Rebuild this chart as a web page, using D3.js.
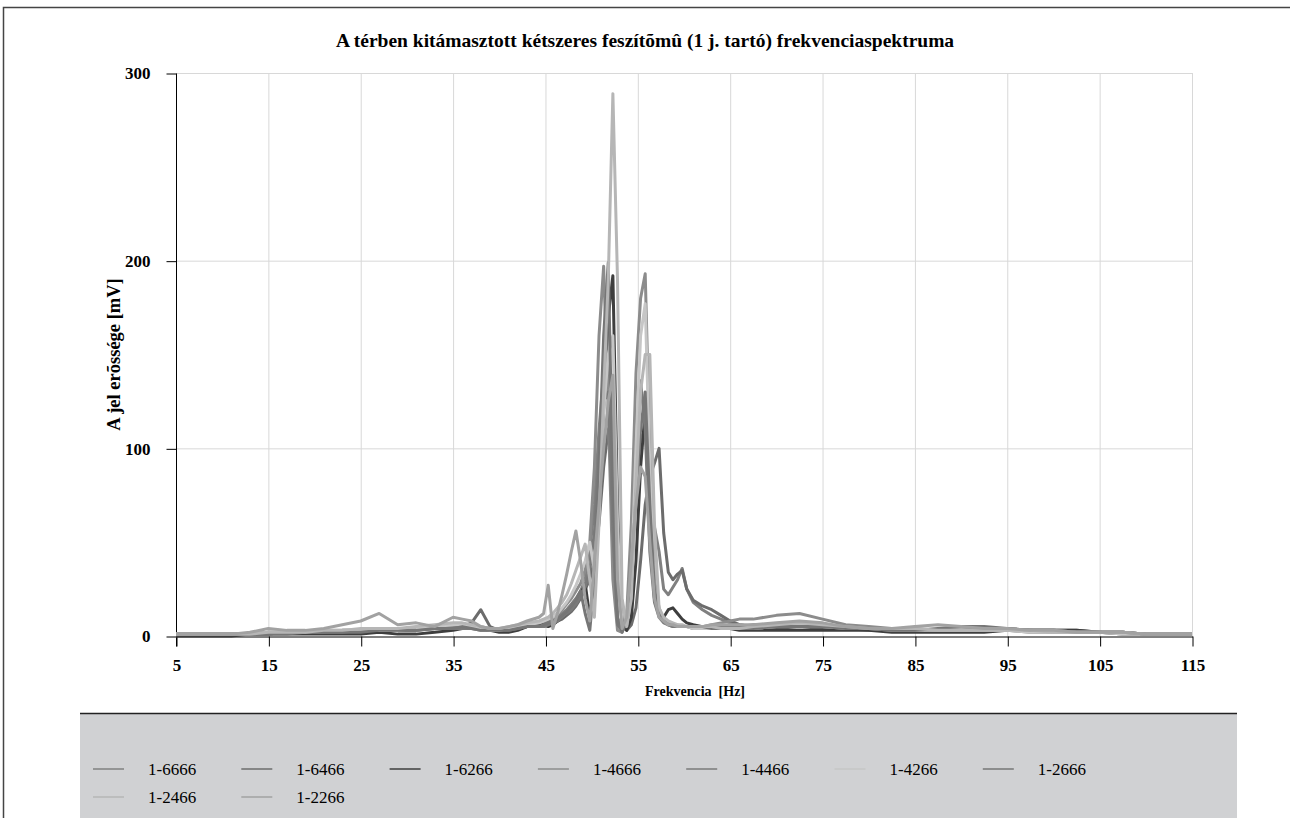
<!DOCTYPE html>
<html>
<head>
<meta charset="utf-8">
<script src="https://cdn.jsdelivr.net/npm/d3@7"></script>
<style>
  body { margin: 0; background: #fff; }
  svg text { font-family: "Liberation Serif", "Times New Roman", serif; }
</style>
</head>
<body>
<div id="chart"></div>
<script>
// Frequency grid [Hz]
const freqs = [
  5, 7, 9, 11, 13, 15, 17, 19, 21, 23, 25, 27, 29, 31, 33, 35,
  36, 37, 38, 39, 40, 41, 42, 43,
  44.3, 44.8, 45.3, 45.8, 46.3, 46.8, 47.3, 47.8, 48.3, 48.8, 49.3, 49.8, 50.3, 50.8, 51.3, 51.8,
  52.3, 52.8, 53.3, 53.8, 54.3, 54.8, 55.3, 55.8, 56.3, 56.8, 57.3, 57.8, 58.3, 58.8, 59.3, 59.8, 60.3,
  61, 62, 63, 64, 65, 66,
  67.5, 70, 72.5, 75, 77.5, 80, 82.5, 85, 87.5, 90, 92.5, 95, 97.5, 100, 102.5, 105, 107.5, 110, 112.5, 115
];

const seriesNames = ["1-6666", "1-6466", "1-6266", "1-4666", "1-4466", "1-4266", "1-2666", "1-2466", "1-2266"];
const seriesColors = ["#808080", "#6c6c6c", "#3e3e3e", "#8c8c8c", "#7a7a7a", "#c6c6c6", "#767676", "#b6b6b6", "#a2a2a2"];

// signal strength [mV] for each series, same order as freqs
const s6666 = [1,1,1,1,1,2,2,2,2,3,3,3,3,4,4,5,
  5,4,3,3,3,4,5,5,
  6,7,8,9,10,12,14,17,20,24,30,45,70,110,140,150,60,10,4,10,35,80,105,110,75,58,45,25,22,26,30,36,25,
  18,14,11,9,7,6,
  5,5,6,5,4,4,3,3,3,3,3,3,3,2,2,2,1,1,1,1];
const s6466 = [1,1,1,1,1,1,2,2,2,2,2,3,3,3,4,4,
  5,7,14,5,3,3,4,5,
  5,5,6,7,8,9,11,13,16,20,25,30,40,60,90,110,115,50,8,3,6,15,40,70,85,92,100,55,34,30,33,35,25,
  19,16,14,11,8,6,
  5,4,5,4,4,3,3,3,3,3,4,4,3,3,3,2,2,1,1,1];
const s6266 = [0,0,0,0,1,1,1,1,1,1,1,2,1,1,2,3,
  4,5,4,3,2,2,3,5,
  6,6,5,6,8,10,12,15,18,22,28,10,30,80,120,170,192,70,5,3,10,40,90,120,60,20,12,10,14,15,12,9,7,
  6,5,5,4,4,3,
  3,3,3,3,3,3,2,2,2,2,2,3,3,3,3,2,2,1,1,1];
const s4666 = [1,1,1,1,1,2,2,2,2,3,3,3,4,4,5,6,
  6,5,4,3,3,4,5,6,
  7,8,9,10,12,14,17,20,24,28,35,50,90,160,197,120,30,3,2,12,60,140,180,193,100,30,15,8,6,5,5,5,5,
  5,5,6,7,8,9,
  9,11,12,9,6,5,4,4,3,3,3,3,3,3,2,2,2,1,1,1];
const s4466 = [1,1,1,1,1,1,2,2,2,2,3,3,3,3,4,4,
  4,4,5,4,3,3,4,5,
  5,5,6,7,8,10,12,14,17,21,26,35,55,95,125,130,55,6,3,8,30,90,136,110,45,18,10,7,6,5,5,5,5,
  4,4,4,5,5,5,
  6,6,7,6,5,4,4,3,3,3,3,3,2,2,2,2,1,1,1,1];
const s4266 = [1,1,1,1,1,2,2,2,3,3,3,3,3,4,5,6,
  6,5,4,3,3,4,5,6,
  7,8,9,10,12,15,18,22,27,33,40,50,35,70,120,150,160,60,4,6,30,100,160,177,90,25,12,8,7,6,6,5,5,
  4,4,4,4,4,4,
  4,5,6,5,4,4,3,3,3,3,3,3,2,2,2,2,1,1,1,1];
const s2666 = [1,1,1,1,1,1,1,2,2,2,2,3,3,3,4,4,
  5,4,3,3,3,3,4,5,
  5,6,7,8,9,11,13,16,19,24,12,3,30,90,160,199,80,8,2,8,30,75,110,130,70,25,12,8,7,6,5,5,5,
  5,5,4,4,4,4,
  4,5,5,5,4,4,3,3,4,5,5,4,3,3,2,2,2,1,1,1];
const s2466 = [1,1,1,1,1,2,2,2,3,3,4,4,4,5,6,7,
  7,6,5,4,4,5,6,7,
  8,9,10,12,15,18,22,28,35,42,49,30,10,60,130,190,289,190,20,5,20,80,130,150,150,60,15,10,8,7,6,6,5,
  5,5,5,4,4,4,
  5,6,7,6,5,4,4,4,3,3,3,3,3,2,2,2,2,1,1,1];
const s2266 = [1,1,1,1,2,4,3,3,4,6,8,12,6,7,5,10,
  9,8,5,4,4,5,6,8,
  10,12,27,4,12,22,33,45,56,40,20,8,40,70,100,125,139,30,4,10,40,70,90,85,50,20,10,8,6,6,5,5,5,
  5,5,6,6,6,6,
  6,7,8,7,5,4,4,5,6,5,4,4,3,3,2,2,2,1,1,1];

const seriesValues = [s6666, s6466, s6266, s4666, s4466, s4266, s2666, s2466, s2266];

const xTicks = [5, 15, 25, 35, 45, 55, 65, 75, 85, 95, 105, 115];
const yTicks = [0, 100, 200, 300];

const width = 1290, height = 818;
const plot = { left: 176, right: 1192, top: 73, bottom: 636 };
const serif = "'Liberation Serif', 'Times New Roman', serif";

const svg = d3.select("#chart")
    .append("svg")
    .attr("width", width)
    .attr("height", height);

// outer frame (top and left edges)
svg.append("path")
    .attr("d", `M3.5,${height} V7.5 H${width}`)
    .attr("fill", "none")
    .attr("stroke", "#444")
    .attr("stroke-width", 1.5);

const x = d3.scaleLinear().domain([5, 115]).range([plot.left, plot.right]);
const y = d3.scaleLinear().domain([0, 300]).range([plot.bottom, plot.top]);

// grid
svg.append("g")
    .selectAll("line.vgrid")
    .data(xTicks.slice(1))
    .enter()
    .append("line")
    .attr("x1", d => x(d) + 0.5)
    .attr("x2", d => x(d) + 0.5)
    .attr("y1", plot.top)
    .attr("y2", plot.bottom)
    .attr("stroke", "#d8d8d8");

svg.append("g")
    .selectAll("line.hgrid")
    .data(yTicks.slice(1))
    .enter()
    .append("line")
    .attr("x1", plot.left)
    .attr("x2", plot.right)
    .attr("y1", d => y(d) + 0.5)
    .attr("y2", d => y(d) + 0.5)
    .attr("stroke", "#d8d8d8");

// axes
const xAxis = svg.append("g")
    .attr("transform", `translate(0.5,${plot.bottom + 0.5})`)
    .call(d3.axisBottom(x).tickValues(xTicks).tickSize(10).tickSizeOuter(0).tickPadding(12));

const yAxis = svg.append("g")
    .attr("transform", `translate(${plot.left + 0.5},0.5)`)
    .call(d3.axisLeft(y).tickValues(yTicks).tickSize(10).tickSizeOuter(0).tickPadding(16));

[xAxis, yAxis].forEach(ax => {
    ax.select(".domain").attr("stroke", "#000");
    ax.selectAll(".tick line").attr("stroke", "#000");
    ax.selectAll(".tick text")
        .attr("fill", "#000")
        .style("font-size", "17px")
        .style("font-weight", "bold")
        .style("font-family", serif);
});
// y axis line runs down to the x tick ends
yAxis.select(".domain").attr("d", `M0,${plot.top}V${plot.bottom + 10}`);

// series lines
const line = d3.line()
    .x(d => x(d.f))
    .y(d => y(d.v));

seriesValues.forEach((vals, i) => {
    const pts = freqs.map((f, j) => ({ f: f, v: vals[j] }));
    svg.append("path")
        .datum(pts)
        .attr("d", line)
        .attr("fill", "none")
        .attr("stroke", seriesColors[i])
        .attr("stroke-width", 3)
        .attr("stroke-linejoin", "round");
});

// title and axis labels
svg.append("text")
    .attr("x", 645)
    .attr("y", 47)
    .attr("text-anchor", "middle")
    .style("font-family", serif)
    .style("font-size", "19.5px")
    .style("font-weight", "bold")
    .text("A térben kitámasztott kétszeres feszítõmû (1 j. tartó) frekvenciaspektruma");

svg.append("text")
    .attr("x", 695)
    .attr("y", 696)
    .attr("text-anchor", "middle")
    .style("font-family", serif)
    .style("font-size", "14px")
    .style("font-weight", "bold")
    .style("white-space", "pre")
    .text("Frekvencia  [Hz]");

svg.append("text")
    .attr("transform", `translate(120,${(plot.top + plot.bottom) / 2}) rotate(-90)`)
    .attr("text-anchor", "middle")
    .style("font-family", serif)
    .style("font-size", "18.5px")
    .style("font-weight", "bold")
    .text("A jel erõssége [mV]");

// legend
const legendBox = { left: 80, right: 1237, top: 713 };
svg.append("rect")
    .attr("x", legendBox.left)
    .attr("y", legendBox.top)
    .attr("width", legendBox.right - legendBox.left)
    .attr("height", height - legendBox.top)
    .attr("fill", "#d0d1d3");
svg.append("line")
    .attr("x1", legendBox.left)
    .attr("x2", legendBox.right)
    .attr("y1", legendBox.top + 0.5)
    .attr("y2", legendBox.top + 0.5)
    .attr("stroke", "#222")
    .attr("stroke-width", 1.5);

const legend = svg.selectAll(".legend")
    .data(seriesNames)
    .enter()
    .append("g")
    .attr("class", "legend")
    .attr("transform", (d, i) => `translate(${93 + (i % 7) * 148.3},${769 + Math.floor(i / 7) * 28})`);

legend.append("line")
    .attr("x1", 0)
    .attr("x2", 31)
    .attr("stroke", (d, i) => seriesColors[i])
    .attr("stroke-width", 1.5);

legend.append("text")
    .attr("x", 55)
    .attr("dy", "0.35em")
    .style("font-family", serif)
    .style("font-size", "17px")
    .text(d => d);
</script>
</body>
</html>
